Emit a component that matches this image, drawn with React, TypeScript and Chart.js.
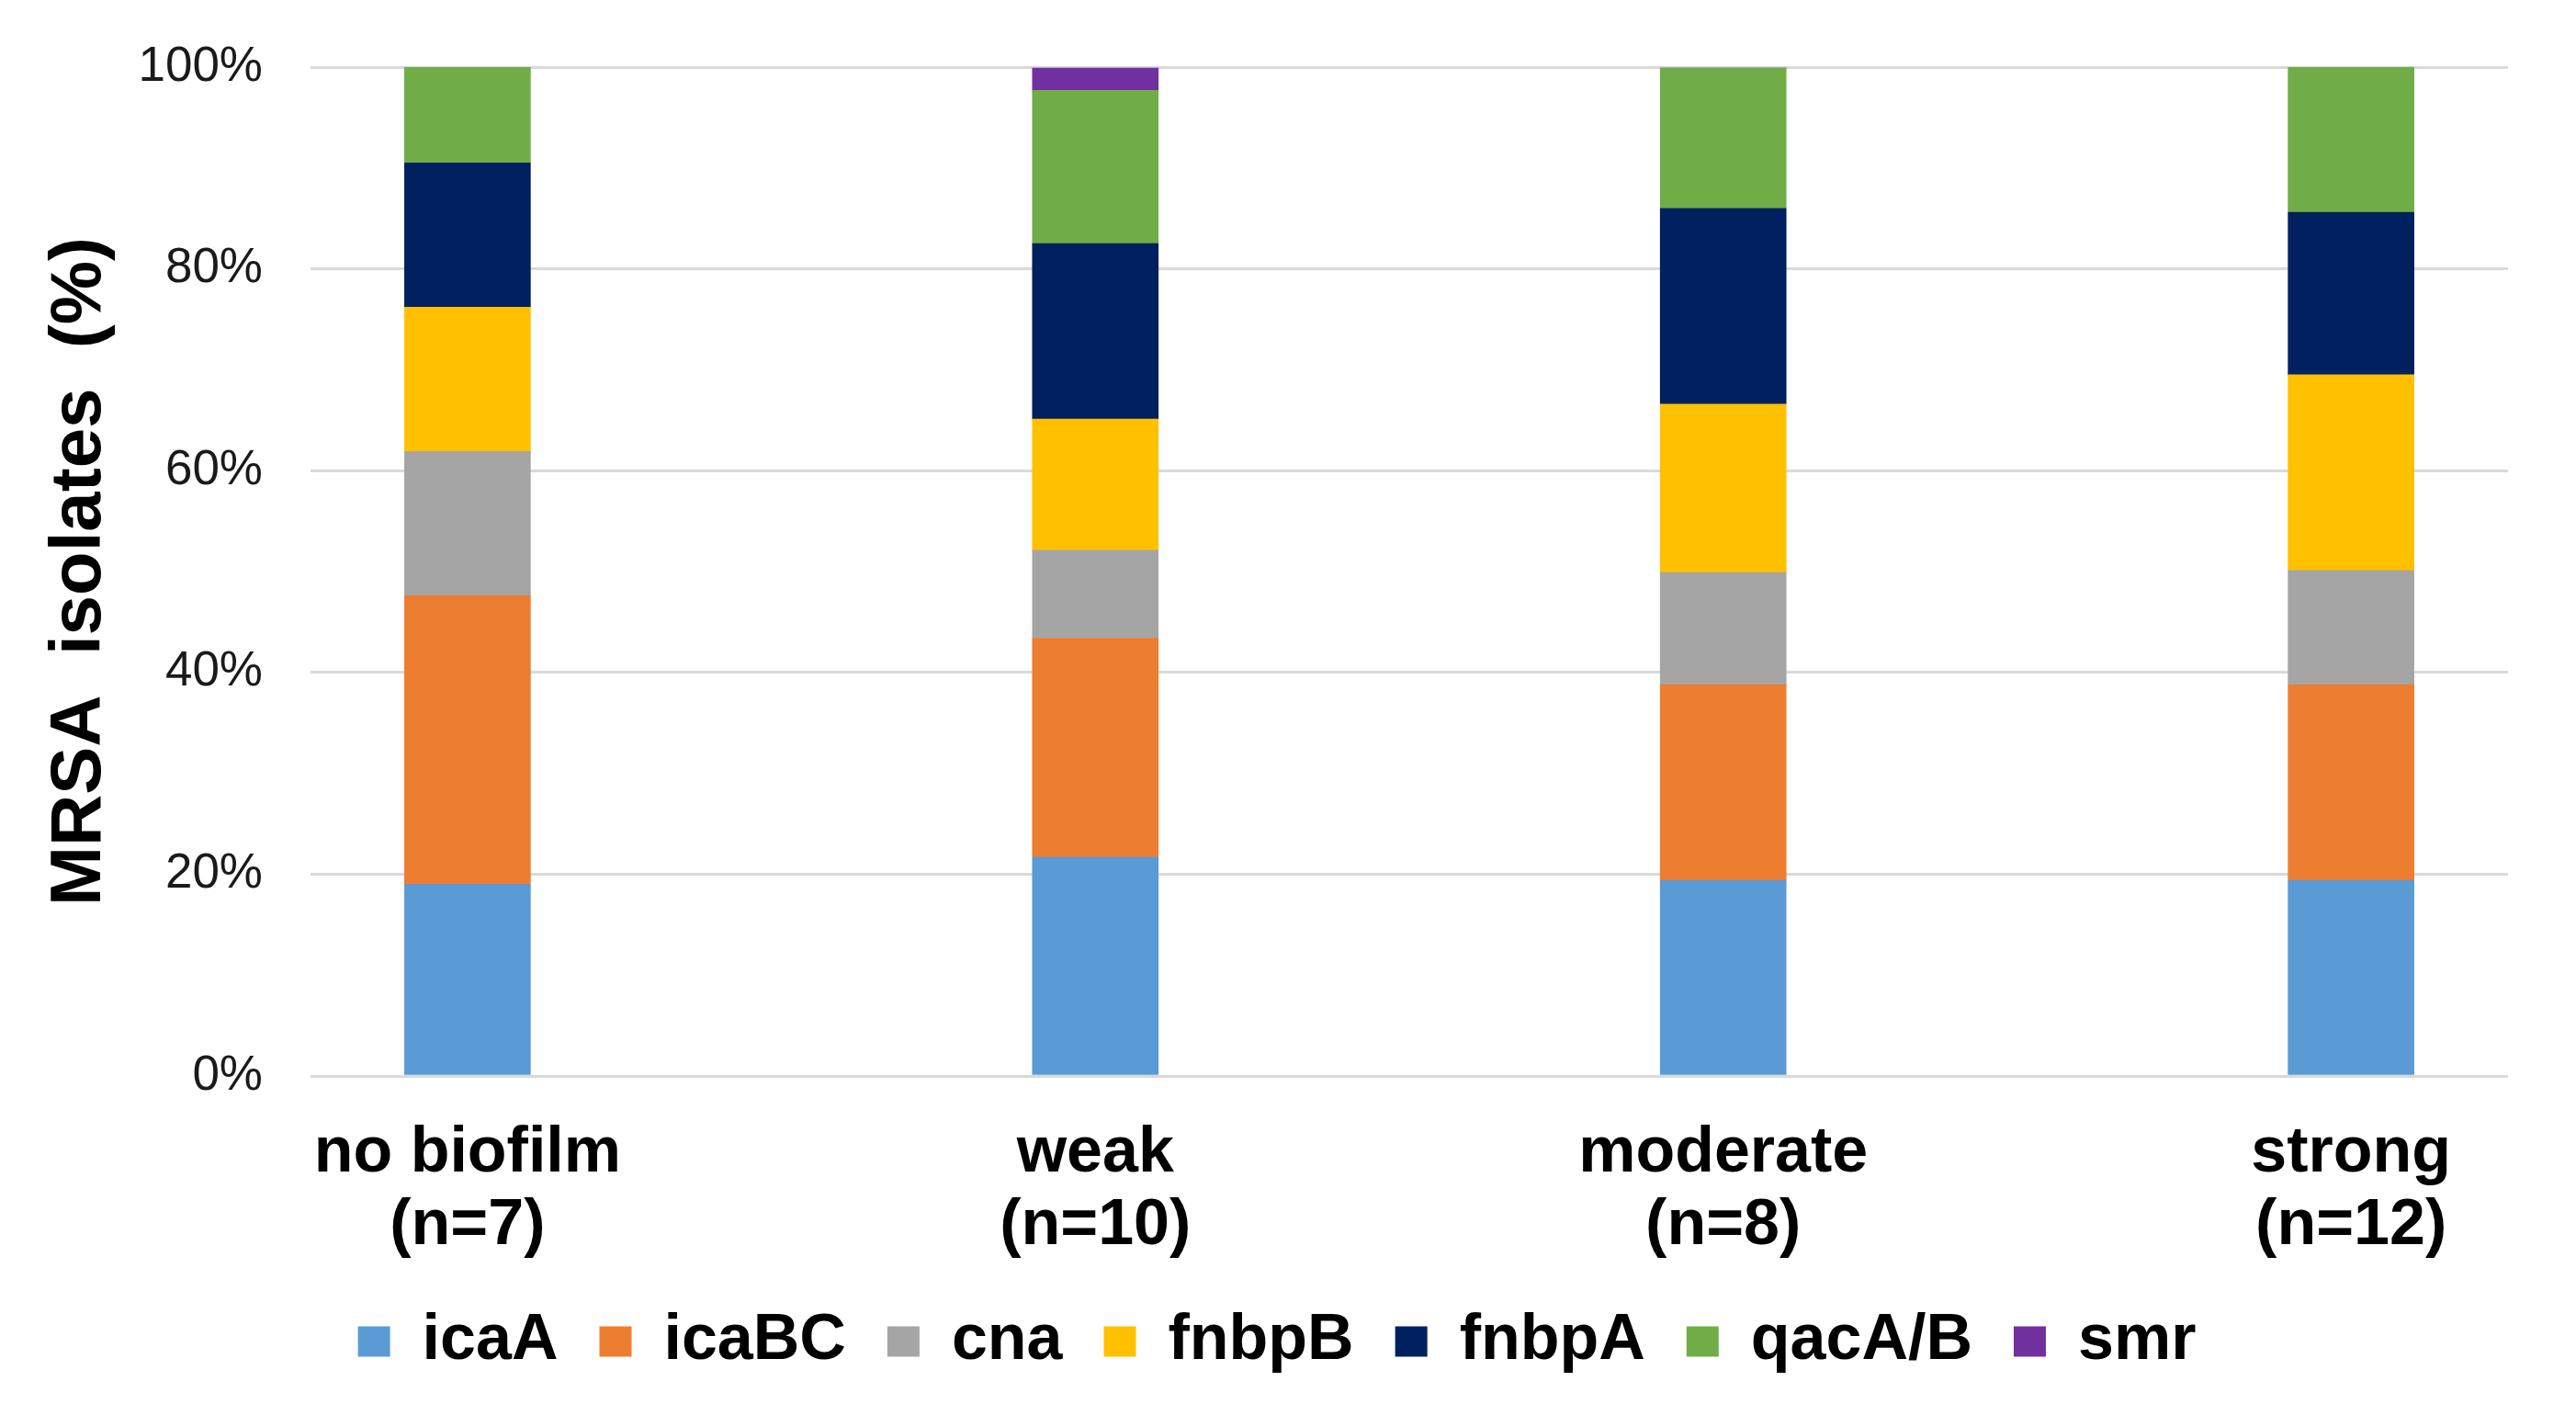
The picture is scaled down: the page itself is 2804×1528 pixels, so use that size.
import React, { useEffect, useRef } from "react";
import { Chart, registerables } from "chart.js";

Chart.register(...registerables);

const CATEGORIES: string[][] = [
  ["no biofilm", "(n=7)"],
  ["weak", "(n=10)"],
  ["moderate", "(n=8)"],
  ["strong", "(n=12)"],
];

const ICAA = [19.0, 21.7, 19.4, 19.4];
const ICABC = [28.6, 21.7, 19.4, 19.4];
const CNA = [14.3, 8.7, 11.1, 11.3];
const FNBPB = [14.3, 13.0, 16.7, 19.4];
const FNBPA = [14.3, 17.4, 19.4, 16.1];
const QACAB = [9.5, 15.2, 13.9, 14.4];
const SMR = [0, 2.2, 0, 0];

const SERIES_NAMES = ["icaA", "icaBC", "cna", "fnbpB", "fnbpA", "qacA/B", "smr"];
const SERIES_VALUES = [ICAA, ICABC, CNA, FNBPB, FNBPA, QACAB, SMR];
const SERIES_COLORS = ["#5B9BD5", "#ED7D31", "#A5A5A5", "#FFC000", "#002060", "#70AD47", "#7030A0"];

const Y_TICKS = [0, 20, 40, 60, 80, 100];
const Y_TITLE = "MRSA  isolates  (%)";

const FONT = "'Liberation Sans', Arial, Helvetica, sans-serif";

export default function App() {
  const canvasRef = useRef<HTMLCanvasElement | null>(null);

  useEffect(() => {
    const canvas = canvasRef.current;
    if (!canvas) return;
    const chart = new Chart(canvas, {
      type: "bar",
      data: {
        datasets: SERIES_NAMES.map((name, si) => ({
          label: name,
          data: SERIES_VALUES[si].map((v, i) => ({ x: i, y: v })),
          backgroundColor: SERIES_COLORS[si],
          borderWidth: 0,
          barThickness: 137,
        })),
      },
      options: {
        animation: false,
        responsive: true,
        maintainAspectRatio: false,
        devicePixelRatio: 1,
        layout: { padding: { top: 73, right: 74, bottom: 23, left: 50 } },
        plugins: {
          tooltip: { enabled: false },
          legend: {
            position: "bottom",
            labels: {
              font: { family: FONT, size: 70, weight: "bold" },
              color: "#000000",
              boxWidth: 35,
              boxHeight: 33,
              padding: 45,
            },
          },
        },
        scales: {
          x: {
            type: "linear",
            stacked: true,
            offset: false,
            min: -0.25,
            max: 3.25,
            grid: { display: false, offset: false },
            border: { display: false },
            afterBuildTicks: (axis: any) => {
              axis.ticks = CATEGORIES.map((_, i) => ({ value: i }));
            },
            afterFit: (axis: any) => {
              axis.height = 209;
            },
            ticks: {
              autoSkip: false,
              maxRotation: 0,
              minRotation: 0,
              padding: 37,
              color: "#000000",
              font: { family: FONT, size: 70, weight: "bold", lineHeight: 1.13 },
              callback: (value: any) => CATEGORIES[Math.round(Number(value))] ?? "",
            },
          },
          y: {
            stacked: true,
            min: 0,
            max: 100,
            afterBuildTicks: (axis: any) => {
              axis.ticks = Y_TICKS.map((v) => ({ value: v }));
            },
            afterFit: (axis: any) => {
              axis.width = 288;
            },
            grid: {
              color: "#D9D9D9",
              lineWidth: 3,
              drawTicks: true,
              tickLength: 42,
              tickColor: "rgba(0,0,0,0)",
            },
            border: { display: false },
            ticks: {
              padding: 10,
              color: "#1a1a1a",
              font: { family: FONT, size: 53 },
              callback: (value: any) => `${value}%`,
            },
            title: {
              display: true,
              text: Y_TITLE,
              color: "#000000",
              font: { family: FONT, size: 78, weight: "bold", lineHeight: 1 },
              padding: { top: -2, bottom: 0 },
            },
          },
        },
      },
    });
    return () => chart.destroy();
  }, []);

  return (
    <div style={{ position: "absolute", left: 0, top: 0, width: 2804, height: 1528, background: "#ffffff" }}>
      <canvas ref={canvasRef} />
    </div>
  );
}
